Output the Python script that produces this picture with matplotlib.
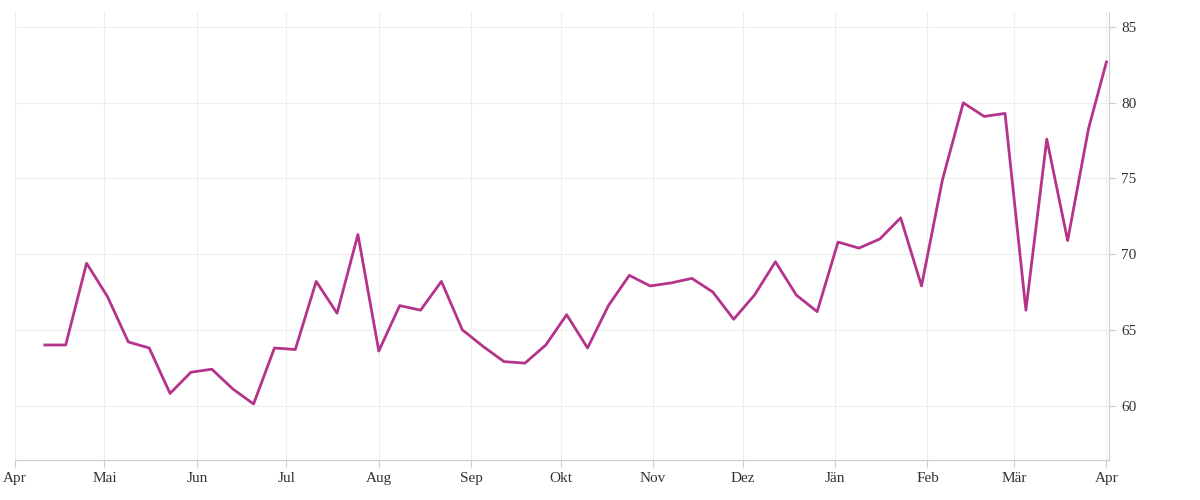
import matplotlib
matplotlib.use("Agg")
import matplotlib.pyplot as plt
import matplotlib.dates as mdates
import pandas as pd
import numpy as np

dates = list(pd.date_range("2023-04-11", periods=51, freq="7D")) + [pd.Timestamp("2024-04-01")]
values = [64.0, 64.0, 69.4, 67.2, 64.2, 63.8, 60.8, 62.2, 62.4, 61.1, 60.1, 63.8, 63.7, 68.2, 66.1, 71.3,
          63.6, 66.6, 66.3, 68.2, 65.0, 63.9, 62.9, 62.8, 64.0, 66.0, 63.8, 66.6, 68.6, 67.9, 68.1, 68.4,
          67.5, 65.7, 67.3, 69.5, 67.3, 66.2, 70.8, 70.4, 71.0, 72.4, 67.9, 74.9, 80.0, 79.1, 79.3, 66.3,
          77.6, 70.9, 78.3, 82.7]
month_labels = ["Apr", "Mai", "Jun", "Jul", "Aug", "Sep", "Okt", "Nov", "Dez", "Jän", "Feb", "Mär", "Apr"]
month_ticks = pd.date_range("2023-04-01", "2024-04-01", freq="MS")
y_ticks = [60, 65, 70, 75, 80, 85]

fig = plt.figure(figsize=(12, 5), dpi=100)
ax = fig.add_axes([0.0125, 0.08, 0.912, 0.896])
ax.plot(dates, values, color="#b5338a", lw=2)
ax.set_xlim(pd.Timestamp("2023-04-01"), pd.Timestamp("2024-04-02"))
ax.set_ylim(56.4, 86.0)
ax.set_xticks(month_ticks)
ax.set_xticklabels(month_labels, fontfamily="Liberation Serif", fontsize=11, color="#333333")
ax.set_yticks(y_ticks)
ax.set_yticklabels([str(v) for v in y_ticks], fontfamily="Liberation Serif", fontsize=11, color="#333333")
ax.yaxis.tick_right()
ax.grid(True, color="#eeeeee", lw=0.8)
for s in ["top", "left"]:
    ax.spines[s].set_visible(False)
ax.spines["bottom"].set_color("#cccccc")
ax.spines["right"].set_color("#cccccc")
ax.tick_params(axis="x", length=5, color="#cccccc")
ax.tick_params(axis="y", length=5, color="#cccccc")
fig.savefig("out.png")
